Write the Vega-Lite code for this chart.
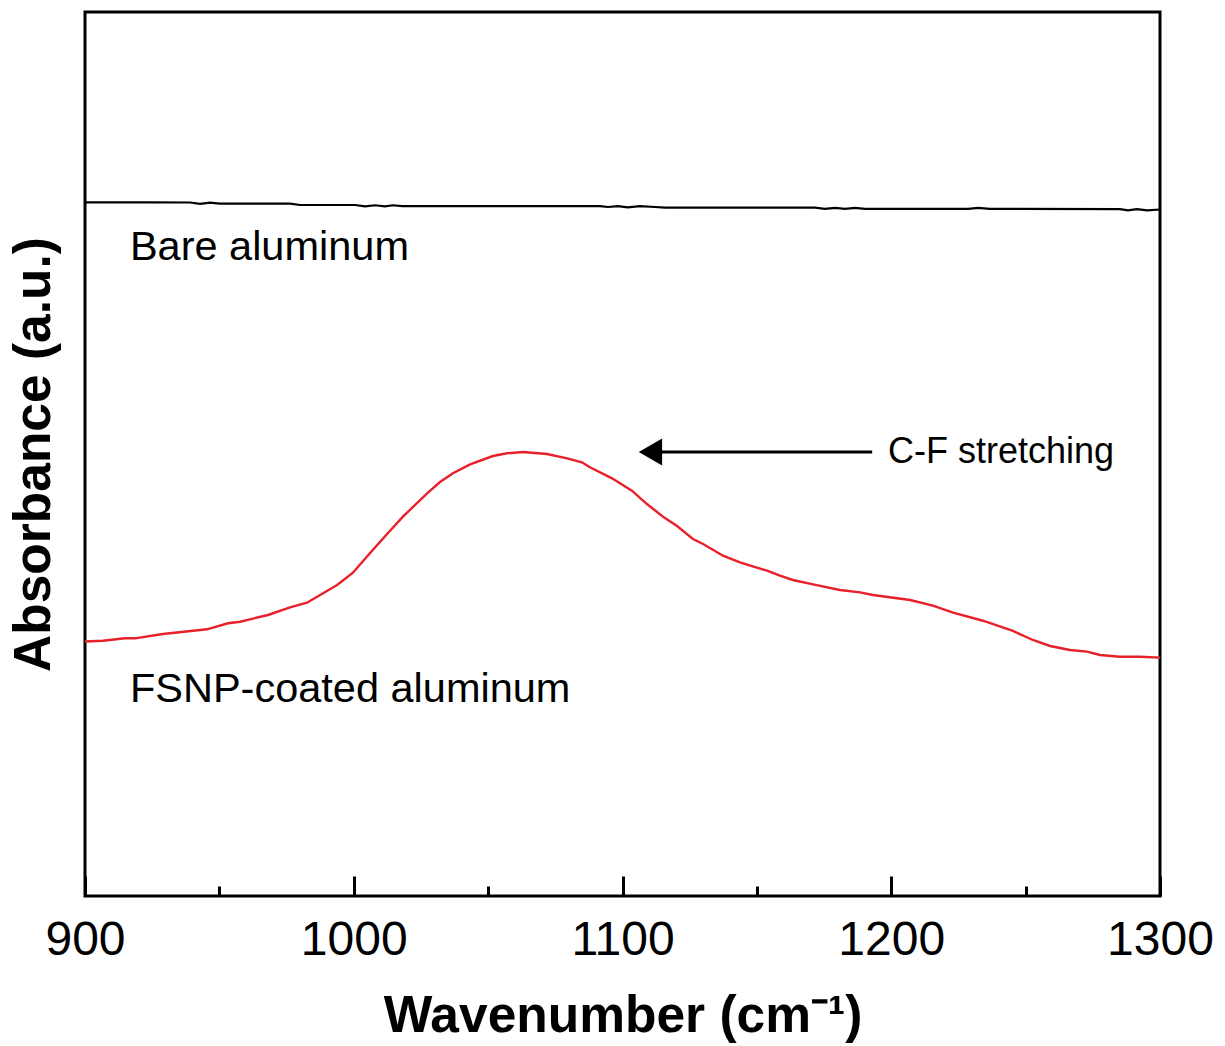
{
  "$schema": "https://vega.github.io/schema/vega-lite/v6.json",
  "width": 1075,
  "height": 884,
  "autosize": "none",
  "padding": {"left": 85, "top": 12, "right": 65, "bottom": 150},
  "background": "white",
  "config": {
    "font": "Liberation Sans",
    "view": {"stroke": "black", "strokeWidth": 3}
  },
  "datasets": {
    "bare": [
      {"wavenumber": 900.0, "absorbance": 78.47},
      {"wavenumber": 924.2, "absorbance": 78.47},
      {"wavenumber": 939.1, "absorbance": 78.45},
      {"wavenumber": 942.8, "absorbance": 78.30},
      {"wavenumber": 946.5, "absorbance": 78.44},
      {"wavenumber": 950.2, "absorbance": 78.33},
      {"wavenumber": 976.3, "absorbance": 78.33},
      {"wavenumber": 980.0, "absorbance": 78.17},
      {"wavenumber": 1000.5, "absorbance": 78.17},
      {"wavenumber": 1004.2, "absorbance": 78.02},
      {"wavenumber": 1007.9, "absorbance": 78.14},
      {"wavenumber": 1011.6, "absorbance": 78.02},
      {"wavenumber": 1014.6, "absorbance": 78.14},
      {"wavenumber": 1018.0, "absorbance": 78.05},
      {"wavenumber": 1091.6, "absorbance": 78.05},
      {"wavenumber": 1094.6, "absorbance": 77.94},
      {"wavenumber": 1098.3, "absorbance": 78.05},
      {"wavenumber": 1102.0, "absorbance": 77.91},
      {"wavenumber": 1106.5, "absorbance": 78.05},
      {"wavenumber": 1112.1, "absorbance": 77.94},
      {"wavenumber": 1115.8, "absorbance": 77.88},
      {"wavenumber": 1171.6, "absorbance": 77.88},
      {"wavenumber": 1175.3, "absorbance": 77.74},
      {"wavenumber": 1179.1, "absorbance": 77.85},
      {"wavenumber": 1182.8, "absorbance": 77.74},
      {"wavenumber": 1186.5, "absorbance": 77.85},
      {"wavenumber": 1190.2, "absorbance": 77.74},
      {"wavenumber": 1228.6, "absorbance": 77.74},
      {"wavenumber": 1232.3, "absorbance": 77.85},
      {"wavenumber": 1236.7, "absorbance": 77.74},
      {"wavenumber": 1285.1, "absorbance": 77.69},
      {"wavenumber": 1288.1, "absorbance": 77.57},
      {"wavenumber": 1291.4, "absorbance": 77.69},
      {"wavenumber": 1295.2, "absorbance": 77.57},
      {"wavenumber": 1300.0, "absorbance": 77.66}
    ],
    "fsnp": [
      {"wavenumber": 900.0, "absorbance": 28.79},
      {"wavenumber": 906.7, "absorbance": 28.88},
      {"wavenumber": 914.9, "absorbance": 29.15},
      {"wavenumber": 918.6, "absorbance": 29.15},
      {"wavenumber": 929.0, "absorbance": 29.64},
      {"wavenumber": 945.4, "absorbance": 30.17},
      {"wavenumber": 953.2, "absorbance": 30.85},
      {"wavenumber": 957.7, "absorbance": 31.03},
      {"wavenumber": 968.1, "absorbance": 31.79},
      {"wavenumber": 976.3, "absorbance": 32.66},
      {"wavenumber": 982.6, "absorbance": 33.18},
      {"wavenumber": 988.6, "absorbance": 34.24},
      {"wavenumber": 993.8, "absorbance": 35.18},
      {"wavenumber": 999.7, "absorbance": 36.57},
      {"wavenumber": 1006.0, "absorbance": 38.77},
      {"wavenumber": 1012.4, "absorbance": 40.95},
      {"wavenumber": 1018.3, "absorbance": 42.91},
      {"wavenumber": 1027.3, "absorbance": 45.55},
      {"wavenumber": 1032.1, "absorbance": 46.83},
      {"wavenumber": 1036.9, "absorbance": 47.82},
      {"wavenumber": 1043.3, "absorbance": 48.83},
      {"wavenumber": 1051.8, "absorbance": 49.77},
      {"wavenumber": 1057.0, "absorbance": 50.08},
      {"wavenumber": 1063.0, "absorbance": 50.23},
      {"wavenumber": 1071.9, "absorbance": 50.00},
      {"wavenumber": 1079.4, "absorbance": 49.51},
      {"wavenumber": 1084.9, "absorbance": 49.06},
      {"wavenumber": 1087.9, "absorbance": 48.50},
      {"wavenumber": 1096.1, "absorbance": 47.25},
      {"wavenumber": 1103.5, "absorbance": 45.85},
      {"wavenumber": 1109.1, "absorbance": 44.34},
      {"wavenumber": 1115.1, "absorbance": 42.91},
      {"wavenumber": 1120.3, "absorbance": 41.86},
      {"wavenumber": 1126.2, "absorbance": 40.38},
      {"wavenumber": 1130.0, "absorbance": 39.82},
      {"wavenumber": 1137.4, "absorbance": 38.50},
      {"wavenumber": 1143.7, "absorbance": 37.75},
      {"wavenumber": 1150.0, "absorbance": 37.14},
      {"wavenumber": 1153.8, "absorbance": 36.80},
      {"wavenumber": 1158.6, "absorbance": 36.23},
      {"wavenumber": 1163.4, "absorbance": 35.75},
      {"wavenumber": 1170.9, "absorbance": 35.26},
      {"wavenumber": 1180.9, "absorbance": 34.62},
      {"wavenumber": 1188.4, "absorbance": 34.35},
      {"wavenumber": 1193.2, "absorbance": 34.05},
      {"wavenumber": 1207.0, "absorbance": 33.48},
      {"wavenumber": 1215.5, "absorbance": 32.84},
      {"wavenumber": 1223.0, "absorbance": 32.05},
      {"wavenumber": 1234.1, "absorbance": 31.14},
      {"wavenumber": 1245.3, "absorbance": 29.98},
      {"wavenumber": 1252.7, "absorbance": 28.96},
      {"wavenumber": 1259.1, "absorbance": 28.28},
      {"wavenumber": 1266.5, "absorbance": 27.83},
      {"wavenumber": 1272.8, "absorbance": 27.64},
      {"wavenumber": 1277.7, "absorbance": 27.26},
      {"wavenumber": 1285.1, "absorbance": 27.07},
      {"wavenumber": 1292.6, "absorbance": 27.07},
      {"wavenumber": 1300.0, "absorbance": 26.96}
    ],
    "sampleLabels": [
      {"wavenumber": 916.7, "absorbance": 72.0, "text": "Bare aluminum"},
      {"wavenumber": 916.7, "absorbance": 21.95, "text": "FSNP-coated aluminum"}
    ],
    "peakLabel": [
      {"wavenumber": 1198.8, "absorbance": 48.98, "text": "C-F stretching"}
    ],
    "arrow": [
      {"from": 1192.9, "to": 1110.4, "absorbance": 50.23}
    ]
  },
  "layer": [
    {
      "data": {"name": "bare"},
      "mark": {"type": "line", "color": "black", "strokeWidth": 2.2},
      "encoding": {
        "x": {
          "field": "wavenumber", "type": "quantitative",
          "scale": {"domain": [900, 1300], "nice": false, "zero": false},
          "axis": {
            "orient": "bottom",
            "values": [900, 1000, 1100, 1200, 1300],
            "format": "d",
            "grid": false, "domain": false,
            "tickSize": -20, "tickWidth": 3, "tickColor": "black",
            "labelFontSize": 48, "labelColor": "black", "labelPadding": 40,
            "labelFlush": false, "labelOverlap": false,
            "title": "Wavenumber (cm⁻¹)",
            "titleFontSize": 51.5, "titleFontWeight": "bold", "titleColor": "black",
            "titlePadding": 26
          }
        },
        "y": {
          "field": "absorbance", "type": "quantitative",
          "scale": {"domain": [0, 100], "nice": false, "zero": false},
          "axis": {
            "orient": "left",
            "ticks": false, "labels": false, "domain": false, "grid": false,
            "title": "Absorbance (a.u.)",
            "titleFontSize": 51.5, "titleFontWeight": "bold", "titleColor": "black",
            "titlePadding": 25
          }
        }
      }
    },
    {
      "data": {"name": "fsnp"},
      "mark": {"type": "line", "color": "#e8202a", "strokeWidth": 2.4},
      "encoding": {
        "x": {
          "field": "wavenumber", "type": "quantitative",
          "axis": {
            "orient": "bottom",
            "values": [950, 1050, 1150, 1250],
            "grid": false, "domain": false, "labels": false, "title": null,
            "tickSize": -10, "tickWidth": 3, "tickColor": "black"
          }
        },
        "y": {"field": "absorbance", "type": "quantitative"}
      }
    },
    {
      "data": {"name": "sampleLabels"},
      "mark": {"type": "text", "align": "left", "baseline": "alphabetic", "fontSize": 41.5, "color": "black"},
      "encoding": {
        "x": {"field": "wavenumber", "type": "quantitative", "axis": null},
        "y": {"field": "absorbance", "type": "quantitative"},
        "text": {"field": "text"}
      }
    },
    {
      "data": {"name": "peakLabel"},
      "mark": {"type": "text", "align": "left", "baseline": "alphabetic", "fontSize": 36, "color": "black"},
      "encoding": {
        "x": {"field": "wavenumber", "type": "quantitative", "axis": null},
        "y": {"field": "absorbance", "type": "quantitative"},
        "text": {"field": "text"}
      }
    },
    {
      "data": {"name": "arrow"},
      "mark": {"type": "rule", "color": "black", "strokeWidth": 3},
      "encoding": {
        "x": {"field": "from", "type": "quantitative", "axis": null},
        "x2": {"field": "to"},
        "y": {"field": "absorbance", "type": "quantitative"}
      }
    },
    {
      "data": {"name": "arrow"},
      "mark": {"type": "point", "shape": "triangle-left", "size": 729, "filled": true, "color": "black", "opacity": 1},
      "encoding": {
        "x": {"field": "to", "type": "quantitative", "axis": null},
        "y": {"field": "absorbance", "type": "quantitative"}
      }
    }
  ],
  "resolve": {"axis": {"x": "independent"}}
}
